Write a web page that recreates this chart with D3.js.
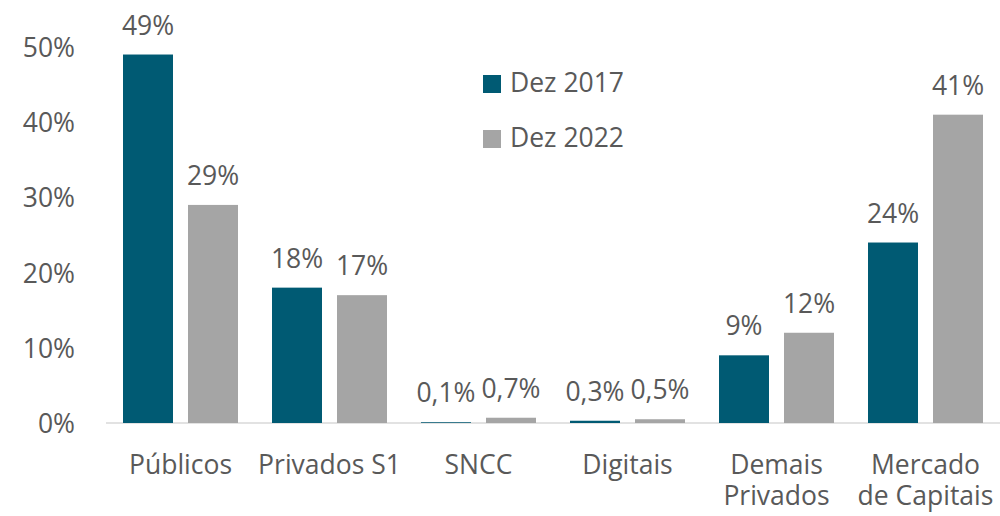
<!DOCTYPE html>
<html>
<head>
<meta charset="utf-8">
<script src="https://cdn.jsdelivr.net/npm/d3@7"></script>
<style>
  html, body { margin: 0; padding: 0; background: #fff; }
  svg { display: block; }
  text { font-family: "Open Sans", sans-serif; fill: #595959; }
</style>
</head>
<body>
<svg id="chart" width="1000" height="516"></svg>
<script>
// Participação por segmento (%)
const categories = [["Públicos"], ["Privados S1"], ["SNCC"], ["Digitais"], ["Demais", "Privados"], ["Mercado", "de Capitais"]];
const seriesNames = ["Dez 2017", "Dez 2022"];
const dez2017 = [49, 18, 0.1, 0.3, 9, 24];
const dez2022 = [29, 17, 0.7, 0.5, 12, 41];
const yTicks = [0, 10, 20, 30, 40, 50];
const colors = ["#005A73", "#A5A5A5"];

const svg = d3.select("#chart");
const fontSize = 26.5;

const catKeys = categories.map(c => c.join(" "));
const x0 = d3.scaleBand().domain(catKeys).range([106, 1000]).padding(0);
const x1 = d3.scaleBand().domain(seriesNames).range([17, 132]).paddingInner(15 / 65).paddingOuter(0);
const y = d3.scaleLinear().domain([0, 50]).range([423, 47]);
const color = d3.scaleOrdinal().domain(seriesNames).range(colors);

const fmt = v => (v < 1 ? d3.format(".1f")(v).replace(".", ",") : d3.format(".0f")(v)) + "%";

// Y axis labels (no line, no ticks)
const yAxis = d3.axisLeft(y).tickValues(yTicks).tickFormat(d => d + "%").tickSize(0).tickPadding(0);
const yg = svg.append("g").attr("transform", "translate(75,0)").call(yAxis);
yg.select(".domain").remove();
yg.selectAll("text")
  .attr("font-size", fontSize)
  .style("font-family", "'Open Sans', sans-serif")
  .style("fill", "#595959")
  .attr("dy", "0.36em");

// Baseline
svg.append("line")
  .attr("x1", 106).attr("x2", 1000)
  .attr("y1", y(0)).attr("y2", y(0))
  .attr("stroke", "#D9D9D9").attr("stroke-width", 1.3);

const rows = catKeys.map((k, i) => ({ key: k, lines: categories[i], values: [dez2017[i], dez2022[i]] }));

const groups = svg.append("g").selectAll("g")
  .data(rows).join("g")
  .attr("transform", d => `translate(${x0(d.key)},0)`);

const cells = groups.selectAll("g.cell")
  .data(d => d.values.map((v, j) => ({ series: seriesNames[j], value: v })))
  .join("g").attr("class", "cell");

cells.append("rect")
  .attr("x", d => x1(d.series))
  .attr("width", x1.bandwidth())
  .attr("y", d => y(d.value))
  .attr("height", d => y(0) - y(d.value))
  .attr("fill", d => color(d.series));

cells.append("text")
  .attr("x", d => x1(d.series) + x1.bandwidth() / 2)
  .attr("y", d => y(d.value) - 20)
  .attr("text-anchor", "middle")
  .attr("font-size", fontSize)
  .text(d => fmt(d.value));

// Category labels
groups.append("text")
  .attr("text-anchor", "middle")
  .attr("font-size", fontSize)
  .attr("x", x0.bandwidth() / 2)
  .attr("y", 474)
  .selectAll("tspan")
  .data(d => d.lines)
  .join("tspan")
  .attr("x", x0.bandwidth() / 2)
  .attr("dy", (d, i) => i === 0 ? 0 : 31)
  .text(d => d);

// Legend
const legend = svg.append("g").attr("transform", "translate(483,75)");
const li = legend.selectAll("g").data(seriesNames).join("g")
  .attr("transform", (d, i) => `translate(0,${i * 55})`);
li.append("rect").attr("width", 18).attr("height", 18).attr("fill", d => color(d));
li.append("text").attr("x", 27).attr("y", 17).attr("font-size", fontSize).text(d => d);
</script>
</body>
</html>
